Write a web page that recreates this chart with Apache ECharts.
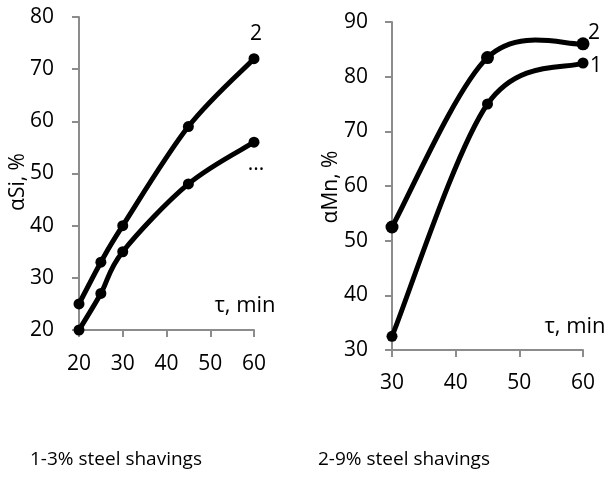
<!DOCTYPE html>
<html>
<head>
<meta charset="utf-8">
<script src="https://cdn.jsdelivr.net/npm/echarts@6/dist/echarts.min.js"></script>
<style>
  html, body { margin: 0; padding: 0; background: #fff; }
  #chart { width: 608px; height: 477px; }
</style>
</head>
<body>
<div id="chart"></div>
<script>
// left panel: 1-3% steel shavings, alpha Si
const siTime = [20, 25, 30, 45, 60];
const siCurve1 = [20, 27, 35, 48, 56];
const siCurve2 = [25, 33, 40, 59, 72];
// right panel: 2-9% steel shavings, alpha Mn
const mnTime = [30, 45, 60];
const mnCurve1 = [32.5, 75, 82.5];
const mnCurve2 = [52.5, 83.5, 86];

const panelTitles = ["1-3% steel shavings", "2-9% steel shavings"];

const font = "Open Sans, Liberation Sans, sans-serif";

// excel-like smoothed line: catmull-rom segments between the points,
// positions come from the axes via api.coord
function splineSeries(xi, xs, ys, size, tag) {
  const last = xs.length - 1;
  return {
    type: "custom",
    xAxisIndex: xi,
    yAxisIndex: xi,
    clip: false,
    data: xs.map((x, i) => [x, ys[i]]),
    renderItem: (params, api) => {
      const i = params.dataIndex;
      const pts = xs.map((x, k) => api.coord([x, ys[k]]));
      const p1 = pts[i];
      const children = [];
      if (i < last) {
        const p0 = pts[Math.max(i - 1, 0)];
        const p2 = pts[i + 1];
        const p3 = pts[Math.min(i + 2, last)];
        children.push({
          type: "bezierCurve",
          shape: {
            x1: p1[0], y1: p1[1], x2: p2[0], y2: p2[1],
            cpx1: p1[0] + (p2[0] - p0[0]) / 6, cpy1: p1[1] + (p2[1] - p0[1]) / 6,
            cpx2: p2[0] - (p3[0] - p1[0]) / 6, cpy2: p2[1] - (p3[1] - p1[1]) / 6,
          },
          style: { stroke: "#000", lineWidth: 5, fill: "none", lineCap: "round" },
          z2: 1,
        });
      }
      children.push({
        type: "circle",
        shape: { cx: p1[0], cy: p1[1], r: size / 2 },
        style: { fill: "#000" },
        z2: 2,
      });
      if (i === last && tag) {
        children.push({
          type: "text",
          x: p1[0] + tag.dx,
          y: p1[1] + tag.dy,
          style: { text: tag.text, fill: "#000", font: "21px " + font, align: "center", verticalAlign: "middle" },
          z2: 3,
        });
      }
      return { type: "group", children: children };
    },
  };
}

const axisLine = { show: true, lineStyle: { color: "#8c8c8c", width: 2 } };
const axisTick = { show: true, inside: false, length: 7, lineStyle: { color: "#8c8c8c", width: 2 } };
const labelStyle = { color: "#000", fontSize: 21, fontFamily: font };

const chart = echarts.init(document.getElementById("chart"));
const option = {
  animation: false,
  grid: [
    { left: 79, top: 17, width: 175, height: 313 },
    { left: 392, top: 22, width: 191, height: 328 },
  ],
  xAxis: [
    {
      gridIndex: 0, type: "value", min: 20, max: 60, interval: 10,
      axisLine: axisLine, axisTick: axisTick, splitLine: { show: false },
      axisLabel: Object.assign({ margin: 24 }, labelStyle),
    },
    {
      gridIndex: 1, type: "value", min: 30, max: 60, interval: 10,
      axisLine: axisLine, axisTick: axisTick, splitLine: { show: false },
      axisLabel: Object.assign({ margin: 23 }, labelStyle),
    },
  ],
  yAxis: [
    {
      gridIndex: 0, type: "value", min: 20, max: 80, interval: 10,
      axisLine: axisLine, axisTick: axisTick, splitLine: { show: false },
      axisLabel: Object.assign({ margin: 25 }, labelStyle),
    },
    {
      gridIndex: 1, type: "value", min: 30, max: 90, interval: 10,
      axisLine: axisLine, axisTick: axisTick, splitLine: { show: false },
      axisLabel: Object.assign({ margin: 24 }, labelStyle),
    },
  ],
  series: [
    splineSeries(0, siTime, siCurve1, 11, { text: "...", dx: 2, dy: 22 }),
    splineSeries(0, siTime, siCurve2, 11, { text: "2", dx: 2, dy: -25 }),
    splineSeries(1, mnTime, mnCurve1, 11, { text: "1", dx: 13, dy: 3 }),
    splineSeries(1, mnTime, mnCurve2, 13, { text: "2", dx: 11, dy: -11 }),
  ],
  graphic: [
    { type: "text", x: 18, y: 182, rotation: Math.PI / 2,
      style: { text: "αSi, %", fill: "#000", font: "21px " + font, align: "center", verticalAlign: "middle" } },
    { type: "text", x: 331, y: 187, rotation: Math.PI / 2,
      style: { text: "αMn, %", fill: "#000", font: "21px " + font, align: "center", verticalAlign: "middle" } },
    { type: "text", x: 245, y: 306,
      style: { text: "τ, min", fill: "#000", font: "22px " + font, align: "center", verticalAlign: "middle" } },
    { type: "text", x: 575, y: 327,
      style: { text: "τ, min", fill: "#000", font: "22px " + font, align: "center", verticalAlign: "middle" } },
  ],
  title: [
    { text: panelTitles[0], left: 30, top: 450, padding: 0,
      textStyle: { color: "#000", fontSize: 19, fontWeight: "normal", fontFamily: font } },
    { text: panelTitles[1], left: 318, top: 450, padding: 0,
      textStyle: { color: "#000", fontSize: 19, fontWeight: "normal", fontFamily: font } },
  ],
};
chart.setOption(option);
</script>
</body>
</html>
